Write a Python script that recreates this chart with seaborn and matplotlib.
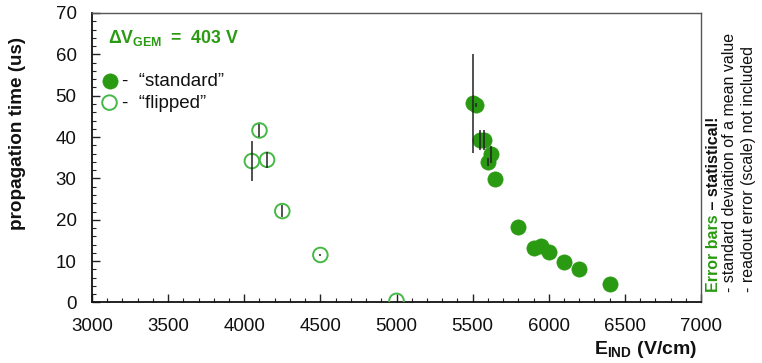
import matplotlib
matplotlib.use("Agg")
import matplotlib.pyplot as plt
from matplotlib.ticker import MultipleLocator
import seaborn as sns
import pandas as pd

# "standard" configuration
std_field = [5500, 5520, 5550, 5575, 5600, 5620, 5650, 5800, 5900, 5950, 6000, 6100, 6200, 6400]
std_time = [48.2, 47.7, 39.3, 39.3, 34.0, 35.8, 29.9, 18.2, 13.1, 13.7, 12.2, 9.7, 8.0, 4.5]
std_err = [12.0, 0.5, 2.5, 2.5, 1.0, 2.0, 0.0, 0.0, 0.0, 0.0, 0.0, 0.0, 0.0, 0.0]

# "flipped" configuration
flip_field = [4050, 4100, 4150, 4250, 4500, 5000]
flip_time = [34.2, 41.6, 34.5, 22.1, 11.5, 0.4]
flip_err = [4.9, 1.5, 2.0, 1.5, 0.3, 0.0]

x_ticks = [3000, 3500, 4000, 4500, 5000, 5500, 6000, 6500, 7000]
y_ticks = [0, 10, 20, 30, 40, 50, 60, 70]

sns.set_theme(style="white")
plt.rcParams["font.family"] = ["Liberation Sans", "DejaVu Sans"]
plt.rcParams["mathtext.fontset"] = "custom"
plt.rcParams["mathtext.rm"] = "Liberation Sans"
plt.rcParams["mathtext.bf"] = "Liberation Sans:bold"

GREEN = "#2a9a12"
OPEN_GREEN = "#46b846"
INK = "#111111"

df_std = pd.DataFrame({"field": std_field, "time": std_time})
df_flip = pd.DataFrame({"field": flip_field, "time": flip_time})

fig = plt.figure(figsize=(7.62, 3.63), dpi=100)
ax = fig.add_axes([0.1207, 0.1667, 0.7993, 0.7975])

sns.scatterplot(data=df_std, x="field", y="time", ax=ax, s=120, color=GREEN,
                edgecolor=GREEN, linewidth=0.5, zorder=3, label="-  \u201cstandard\u201d")
sns.scatterplot(data=df_flip, x="field", y="time", ax=ax, s=110, facecolor="none",
                edgecolor=OPEN_GREEN, linewidth=1.4, zorder=3, label="-  \u201cflipped\u201d")

ax.errorbar(std_field, std_time, yerr=std_err, fmt="none", ecolor="#222222",
            elinewidth=1.1, capsize=0, zorder=4)
ax.errorbar(flip_field, flip_time, yerr=flip_err, fmt="none", ecolor="#222222",
            elinewidth=1.1, capsize=0, zorder=4)

ax.set_xlim(3000, 7000)
ax.set_ylim(0, 70)
ax.set_xticks(x_ticks)
ax.set_yticks(y_ticks)
ax.xaxis.set_minor_locator(MultipleLocator(100))
ax.yaxis.set_minor_locator(MultipleLocator(2))
ax.tick_params(axis="both", which="major", direction="in", length=6, width=1,
               color="#222222", labelsize=13.5, labelcolor=INK, pad=11)
ax.tick_params(axis="both", which="minor", direction="in", length=3, width=0.8,
               color="#222222")
ax.tick_params(bottom=True, left=True, top=False, right=False)
ax.tick_params(axis="both", which="minor", bottom=True, left=True, top=False, right=False)

for side in ["left", "bottom"]:
    ax.spines[side].set_color(INK)
    ax.spines[side].set_linewidth(1.3)
for side in ["top", "right"]:
    ax.spines[side].set_color("#555555")
    ax.spines[side].set_linewidth(1.0)

ax.set_xlabel("")
ax.set_ylabel("")
fig.text(18 / 762, 1 - 133 / 363, "propagation time (us)", rotation=90, fontsize=13.6,
         fontweight="bold", color=INK, ha="center", va="center")

fig.text(0.915, 1 - 350 / 363, r"$\mathbf{E}_{\mathbf{IND}}$ (V/cm)", fontsize=14,
         fontweight="bold", ha="right", va="center", color=INK)

ax.text(0.027, 0.915, r"$\mathbf{\Delta V}_{\mathbf{GEM}}\mathbf{\ =\ 403\ V}$",
        transform=ax.transAxes, fontsize=12.8, color=GREEN, ha="left", va="center")

leg = ax.legend(loc="upper left", bbox_to_anchor=(-0.002, 0.82), frameon=False,
                fontsize=13.5, handletextpad=0.05, labelspacing=0.25, borderaxespad=0.0,
                handlelength=1.2)
for t in leg.get_texts():
    t.set_color(INK)

# side note, rotated, in three columns
note_size = 11.5
x1, x2, x3 = 713 / 762, 730 / 762, 748 / 762
y0 = 1 - 292 / 363
head = fig.text(x1, y0, "Error bars", rotation=90, fontsize=note_size, fontweight="bold",
                color=GREEN, ha="center", va="bottom")
fig.canvas.draw()
bb = head.get_window_extent(fig.canvas.get_renderer())
fig.text(x1, bb.y1 / fig.bbox.height, " \u2013 statistical!", rotation=90,
         fontsize=note_size, fontweight="bold", color=INK, ha="center", va="bottom")
fig.text(x2, y0, "- standard deviation of a mean value", rotation=90,
         fontsize=note_size, color=INK, ha="center", va="bottom")
fig.text(x3, y0, "- readout error (scale) not included", rotation=90,
         fontsize=note_size, color=INK, ha="center", va="bottom")

fig.savefig("out.png", dpi=100)
